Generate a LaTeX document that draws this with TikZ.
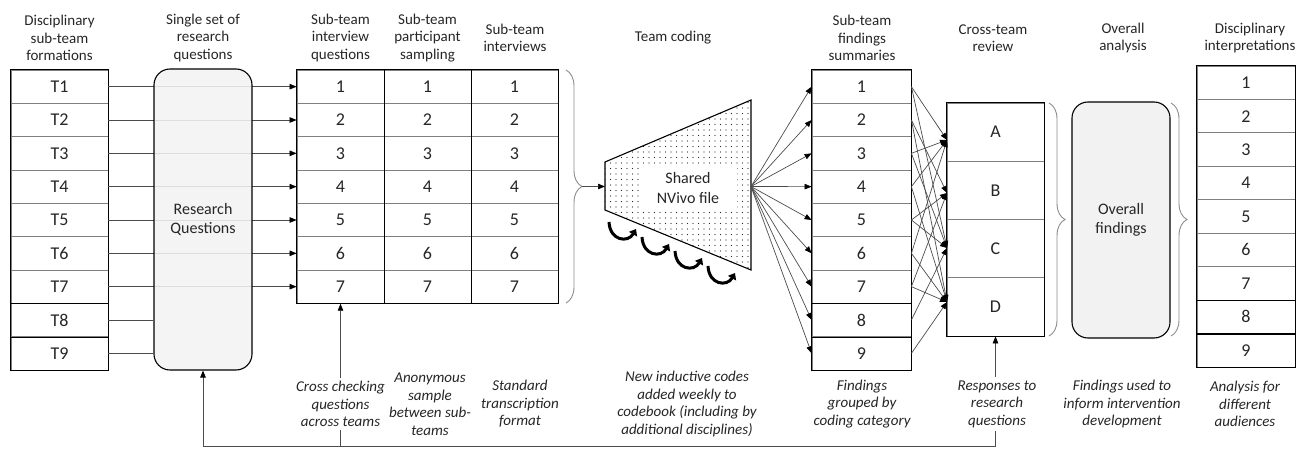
\documentclass[tikz,border=0pt]{standalone}
\usepackage{fontspec}
\setmainfont{Carlito}
\usetikzlibrary{arrows.meta,patterns.meta,decorations.pathreplacing,calc}
\begin{document}
\begin{tikzpicture}[x=1pt,y=-1pt,
  hdr/.style={align=center, font=\fontsize{15}{17.5}\selectfont, text=black!85},
  captxt/.style={align=center, font=\fontsize{15}{17.5}\selectfont\itshape, fill=white, inner sep=3pt, text=black!85},
  cell/.style={draw=black!50, line width=0.8pt, minimum height=33.333pt, inner sep=0pt, font=\fontsize{18}{20}\selectfont, text=black!85},
  conn/.style={draw=black!70, line width=0.7pt, -{Triangle[length=7pt,width=5.5pt,fill=black,color=black]}},
  plain/.style={draw=black!70, line width=0.7pt},
  outer/.style={draw=black, line width=1.1pt},
  rbox/.style={draw=black, line width=1.1pt, rounded corners=16pt, fill=black!5, inner sep=0pt, align=center, font=\fontsize{16}{19.5}\selectfont, text=black!85},
  brc/.style={draw=black!45, line width=0.9pt, decorate, decoration={brace, amplitude=16pt}},
  curv/.style={line width=3pt, -{Triangle[length=6pt,width=9pt]}}
]
\useasboundingbox (0,0) rectangle (1304,449);

% headers
\node[hdr] (h1) at (59.5,38) {Disciplinary\\sub-team\\formations};
\node[hdr] (h2) at (203,38) {Single set of\\research\\questions};
\node[hdr] (h3) at (340.5,38) {Sub-team\\interview\\questions};
\node[hdr] (h4) at (427.5,38) {Sub-team\\participant\\sampling};
\node[hdr] (h5) at (515,38) {Sub-team\\interviews};
\node[hdr] (h6) at (673,38) {Team coding};
\node[hdr] (h7) at (862,38) {Sub-team\\findings\\summaries};
\node[hdr] (h8) at (993,38) {Cross-team\\review};
\node[hdr] (h9) at (1123,38) {Overall\\analysis};
\node[hdr] (h10) at (1250,38) {Disciplinary\\interpretations};

% T column
\foreach \i in {1,...,9}
  \node[cell, minimum width=97pt] (t\i) at (59.5,{70+33.333*(\i-0.5)}) {T\i};
\draw[outer] (t1.north west) rectangle (t9.south east);
\draw[outer] (t7.south west) -- (t7.south east);
\draw[outer] (t8.south west) -- (t8.south east);

% interview table
\foreach \i in {1,...,7} {
  \node[cell, minimum width=87pt] (q\i) at (340.5,{70+33.333*(\i-0.5)}) {\i};
  \node[cell, minimum width=87pt] (s\i) at (427.5,{70+33.333*(\i-0.5)}) {\i};
  \node[cell, minimum width=87pt] (v\i) at (514.5,{70+33.333*(\i-0.5)}) {\i};
}
\draw[outer] (q1.north west) rectangle (v7.south east);
\draw[outer] (q1.north east) -- (q7.south east);
\draw[outer] (s1.north east) -- (s7.south east);

% T -> Q connectors (pass under research questions box)
\foreach \i in {1,...,7}
  \draw[conn] (t\i.east) -- (q\i.west);

\node[rbox, minimum width=98pt, minimum height=301pt, fill opacity=0.88, text opacity=1] (rq) at (203,219.5) {Research\\Questions};
\draw[plain] (t8.east) -- (t8.east -| rq.west);
\draw[plain] (t9.east) -- (t9.east -| rq.west);

% brace 1 and trapezoid
\draw[brc] (566,70) -- (566,303);
\coordinate (b1) at (582,186.5);
\coordinate (z1) at (605,162);
\coordinate (z2) at (751,100);
\coordinate (z3) at (751,270);
\coordinate (z4) at (605,210);
\coordinate (zin) at (605,186.5);
\coordinate (zout) at (751,186.5);
\fill[pattern={Dots[distance=5.5pt,radius=0.65pt]}, pattern color=black!85] (z1) -- (z2) -- (z3) -- (z4) -- cycle;
\draw[black, line width=1.1pt] (z1) -- (z2) -- (z3) -- (z4) -- cycle;
\node[fill=white, minimum width=98pt, minimum height=40pt, inner sep=0pt, align=center, font=\fontsize{16}{19.5}\selectfont, text=black!85] (nv) at (688,188) {Shared\\NVivo file};
\draw[conn] (b1) -- (zin);

\foreach \cx/\cy in {622/231, 655/246, 688/260, 721/275} {
  \begin{scope}[shift={(\cx,\cy)}]
    \draw[curv] (-13,-9) .. controls (-12,10) and (6,12) .. (14,-2);
  \end{scope}
}

% findings table
\foreach \i in {1,...,9}
  \node[cell, minimum width=99pt] (f\i) at (861.5,{70+33.333*(\i-0.5)}) {\i};
\draw[outer] (f1.north west) rectangle (f9.south east);
\draw[outer] (f7.south west) -- (f7.south east);
\draw[outer] (f8.south west) -- (f8.south east);
\foreach \i in {1,...,9}
  \draw[conn] (zout) -- (f\i.west);

% cross-team review
\foreach \l [count=\i] in {A,B,C,D}
  \node[cell, minimum width=97pt, minimum height=58.25pt] (c\l) at (995.5,{103+58.25*(\i-0.5)}) {\l};
\draw[outer] (cA.north west) rectangle (cD.south east);
\coordinate (tA) at (947,140);
\coordinate (tB) at (947,193);
\coordinate (tC) at (947,248);
\coordinate (tD) at (947,302);
\foreach \s/\t in {1/A,1/C,2/B,2/D,3/A,3/C,4/A,4/D,5/B,5/C,6/A,6/D,7/B,7/D,8/C,9/D}
  \draw[conn] (f\s.east) -- (t\t);

% overall
\draw[brc] (1049,103) -- (1049,336);
\node[rbox, minimum width=98pt, minimum height=236pt] (ov) at (1121,220) {Overall\\findings};
\draw[brc] (1171,103) -- (1171,336);

% disciplinary interpretations
\foreach \i in {1,...,9}
  \node[cell, minimum width=98pt, minimum height=33.444pt] (d\i) at (1246,{66+33.444*(\i-0.5)}) {\i};
\draw[outer] (d1.north west) rectangle (d9.south east);
\draw[outer] (d7.south west) -- (d7.south east);
\draw[outer] (d8.south west) -- (d8.south east);

% feedback lines
\coordinate (fb1) at (203,446);
\coordinate (fb2) at (340.5,446);
\coordinate (fb3) at (995.5,446);
\draw[plain] (fb1) -- (fb3);
\draw[conn] (fb1) -- (rq.south);
\draw[conn] (fb2) -- (q7.south);
\draw[conn] (fb3) -- (cD.south);

% captions
\node[captxt] (k1) at (340.5,404) {Cross checking\\questions\\across teams};
\node[captxt] (k2) at (430,404) {Anonymous\\sample\\between sub-\\teams};
\node[captxt] (k3) at (520,404) {Standard\\transcription\\format};
\node[captxt] (k4) at (687,404) {New inductive codes\\added weekly to\\codebook (including by\\additional disciplines)};
\node[captxt] (k5) at (862,404) {Findings\\grouped by\\coding category};
\node[captxt] (k6) at (997,404) {Responses to\\research\\questions};
\node[captxt] (k7) at (1122,404) {Findings used to\\inform intervention\\development};
\node[captxt] (k8) at (1245,404) {Analysis for\\different\\audiences};
\end{tikzpicture}
\end{document}
